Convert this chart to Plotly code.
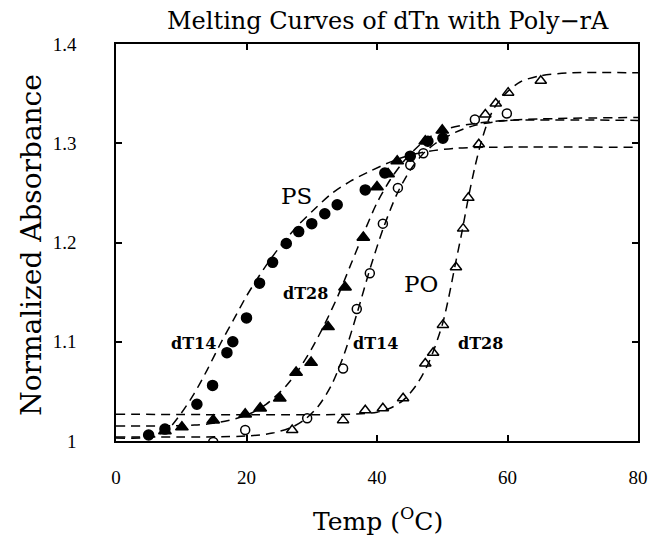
import plotly.graph_objects as go

# ---- measured data points ----
ps14_x = [5.0, 7.5, 12.4, 14.8, 17.0, 17.9, 20.0, 22.0, 24.0, 26.1, 28.0, 30.0, 32.0, 33.9, 38.2, 41.2, 45.1, 47.8, 50.1]
ps14_y = [1.006, 1.012, 1.037, 1.056, 1.089, 1.100, 1.124, 1.159, 1.180, 1.199, 1.211, 1.219, 1.229, 1.238, 1.253, 1.270, 1.287, 1.302, 1.305]

ps28_x = [7.5, 10.1, 14.9, 19.8, 22.1, 25.1, 27.6, 29.9, 32.5, 35.1, 37.9, 40.0, 41.7, 43.1, 47.4, 50.0]
ps28_y = [1.010, 1.014, 1.021, 1.027, 1.033, 1.043, 1.069, 1.079, 1.115, 1.155, 1.205, 1.256, 1.269, 1.282, 1.302, 1.313]

po14_x = [14.9, 19.8, 29.3, 34.8, 36.9, 38.9, 40.9, 43.2, 45.1, 47.1, 55.0, 59.9]
po14_y = [0.999, 1.011, 1.023, 1.073, 1.133, 1.169, 1.219, 1.255, 1.278, 1.290, 1.324, 1.330]

po28_x = [27.0, 34.8, 38.2, 40.9, 44.0, 47.4, 48.6, 50.1, 52.1, 53.2, 54.0, 55.6, 56.6, 58.2, 60.1, 65.1]
po28_y = [1.011, 1.021, 1.031, 1.033, 1.043, 1.078, 1.089, 1.117, 1.175, 1.214, 1.245, 1.299, 1.329, 1.340, 1.351, 1.363]

# ---- fitted dashed curves ----
fit_ps14_x = [0, 4, 6, 8, 10, 12, 14, 16, 18, 20, 22, 24, 26, 28, 30, 33, 36, 39, 42, 45, 48, 52, 58, 80]
fit_ps14_y = [1.003, 1.003, 1.005, 1.012, 1.028, 1.048, 1.072, 1.098, 1.122, 1.146, 1.167, 1.186, 1.203, 1.218, 1.231, 1.249, 1.262, 1.272, 1.281, 1.288, 1.292, 1.295, 1.296, 1.296]

fit_ps28_x = [0, 12, 16, 20, 23, 26, 28, 30, 32, 34, 36, 38, 40, 42, 44, 46, 48, 51, 55, 60, 80]
fit_ps28_y = [1.015, 1.016, 1.019, 1.026, 1.037, 1.055, 1.072, 1.093, 1.118, 1.146, 1.178, 1.210, 1.240, 1.263, 1.281, 1.295, 1.306, 1.315, 1.320, 1.323, 1.323]

fit_po14_x = [0, 20, 24, 27, 29, 31, 33, 35, 37, 39, 41, 43, 45, 47, 49, 52, 55, 60, 80]
fit_po14_y = [1.004, 1.005, 1.008, 1.014, 1.022, 1.035, 1.056, 1.088, 1.130, 1.175, 1.215, 1.248, 1.272, 1.289, 1.300, 1.311, 1.318, 1.323, 1.326]

fit_po28_x = [0, 36, 40, 42, 44, 46, 48, 50, 51, 52, 53, 54, 55, 56, 57, 58, 60, 62, 65, 70, 80]
fit_po28_y = [1.027, 1.027, 1.029, 1.033, 1.041, 1.056, 1.080, 1.117, 1.145, 1.178, 1.210, 1.245, 1.276, 1.302, 1.322, 1.336, 1.352, 1.362, 1.368, 1.371, 1.371]

x_ticks = [0, 20, 40, 60, 80]
y_ticks = [1.0, 1.1, 1.2, 1.3, 1.4]
y_tick_text = ["1", "1.1", "1.2", "1.3", "1.4"]

labels = ["PS", "dT28", "dT14", "dT14", "PO", "dT28"]
label_x = [27.7, 29.0, 11.8, 39.8, 46.7, 55.8]
label_y = [1.247, 1.149, 1.0985, 1.0985, 1.158, 1.0985]

SERIF = "DejaVu Serif"
fig = go.Figure()

for fx, fy in [(fit_ps14_x, fit_ps14_y), (fit_ps28_x, fit_ps28_y),
               (fit_po14_x, fit_po14_y), (fit_po28_x, fit_po28_y)]:
    fig.add_trace(go.Scatter(x=fx, y=fy, mode="lines",
                             line=dict(color="black", width=1.5, dash="9px,6px", shape="spline", smoothing=0.8),
                             showlegend=False, hoverinfo="skip"))

marker_specs = [
    (ps14_x, ps14_y, "circle", 10),
    (ps28_x, ps28_y, "triangle-up", 11),
    (po14_x, po14_y, "circle-open", 9),
    (po28_x, po28_y, "triangle-up-open", 10),
]
for mx, my, sym, sz in marker_specs:
    fig.add_trace(go.Scatter(x=mx, y=my, mode="markers",
                             marker=dict(symbol=sym, size=sz, color="black", line=dict(color="black", width=1.5)),
                             showlegend=False))

for t, lx, ly in zip(labels, label_x, label_y):
    big = t in ("PS", "PO")
    fig.add_annotation(x=lx, y=ly, text=t if big else "<b>" + t + "</b>", showarrow=False,
                       xanchor="center", yanchor="middle",
                       font=dict(family=SERIF, size=23 if big else 16, color="black"))

fig.add_annotation(xref="paper", yref="paper", x=0.502, y=-0.197, text="Temp (<sup>O</sup>C)",
                   xanchor="center", yanchor="middle",
                   showarrow=False, font=dict(family=SERIF, size=25, color="black"))
fig.add_annotation(xref="paper", yref="paper", x=-0.161, y=0.494, text="Normalized Absorbance",
                   xanchor="center", yanchor="middle",
                   textangle=-90, showarrow=False, font=dict(family=SERIF, size=28, color="black"))

fig.update_layout(
    width=648, height=527,
    margin=dict(l=108, r=18, t=36, b=94),
    paper_bgcolor="white", plot_bgcolor="white",
    title=dict(text="Melting Curves of dTn with Poly\u2212rA", x=0.586, xanchor="center",
               y=0.977, yanchor="middle", font=dict(family=SERIF, size=24, color="black")),
    xaxis=dict(range=[0, 80], tickvals=x_ticks, showgrid=False, zeroline=False, automargin=False,
               showline=True, linecolor="black", linewidth=1.5, mirror="ticks",
               ticks="inside", ticklen=6, tickcolor="black", tickwidth=1.5,
               ticklabelstandoff=18,
               tickfont=dict(family="Liberation Serif", size=19, color="black")),
    yaxis=dict(range=[1.0, 1.4], tickvals=y_ticks, ticktext=y_tick_text, showgrid=False, zeroline=False,
               automargin=False,
               showline=True, linecolor="black", linewidth=1.5, mirror="ticks",
               ticks="inside", ticklen=6, tickcolor="black", tickwidth=1.5,
               ticklabelstandoff=34,
               tickfont=dict(family="Liberation Serif", size=19, color="black")),
)

fig.write_html("out.html")
